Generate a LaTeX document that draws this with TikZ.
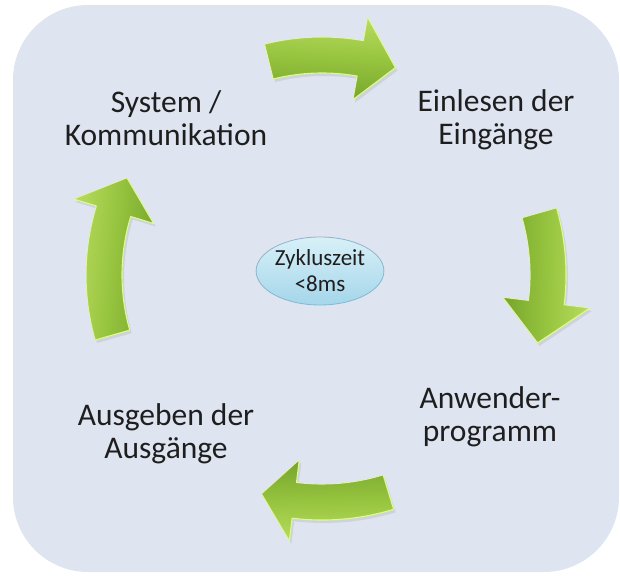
\documentclass[tikz,border=0pt]{standalone}
\usepackage{fontspec}
\setmainfont{Carlito}
\usetikzlibrary{shapes.geometric,shadows}
\definecolor{bgc}{HTML}{DEE5F1}
\definecolor{grlight}{HTML}{B8DC5E}
\definecolor{grmid}{HTML}{96C43F}
\definecolor{grdark}{HTML}{76A42B}
\definecolor{grhl}{HTML}{E0F4A6}
\definecolor{elltop}{HTML}{D8F0F8}
\definecolor{ellbot}{HTML}{A4D6EA}
\definecolor{elledge}{HTML}{8CB5C9}
\definecolor{txt}{HTML}{1E1E1E}
\tikzset{
  cyclearrow/.style={top color=grlight, bottom color=grdark, middle color=grmid,
    draw=grhl, line width=1.1pt, line join=round,
    drop shadow={opacity=0.18, shadow xshift=2pt, shadow yshift=-3pt}},
  lbl/.style={align=center, inner sep=0pt, text=txt,
    font=\fontsize{31.5}{33}\selectfont},
  cyc/.style={ellipse, minimum width=125pt, minimum height=68pt, inner sep=0pt,
    top color=elltop, bottom color=ellbot, draw=elledge, line width=0.8pt,
    align=center, text=txt, font=\fontsize{23}{26}\selectfont}
}
\newcommand{\cycarrow}[6]{% a1, ab, a2, r, w, h
  \pgfmathsetmacro\cyRo{#4+#5}\pgfmathsetmacro\cyRi{#4-#5}%
  \pgfmathsetmacro\cyHo{#4+#6}\pgfmathsetmacro\cyHi{#4-#6}%
  \pgfmathsetmacro\cySa{(#1+#3)/2-90}%
  \path[cyclearrow, shading angle=\cySa]
    ([shift={(C)}]#1:\cyRo) arc[start angle=#1, end angle=#2, radius=\cyRo]
    -- ([shift={(C)}]#2:\cyHo) -- ([shift={(C)}]#3:#4)
    -- ([shift={(C)}]#2:\cyHi) -- ([shift={(C)}]#2:\cyRi)
    arc[start angle=#2, end angle=#1, radius=\cyRi] -- cycle;
}
\begin{document}
\begin{tikzpicture}[x=1pt,y=1pt]
\useasboundingbox (0,0) rectangle (620,575);
\fill[bgc, rounded corners=75pt] (13,3) rectangle (619,570);
\coordinate (C) at (322,300);
% arrows (clockwise)
\cycarrow{104}{80}{70.5}{220}{18}{42}
\cycarrow{16}{-7}{-17.5}{226}{18}{44}
\cycarrow{-73}{-97}{-105.5}{227}{18}{41}
\cycarrow{196}{163}{153.5}{218}{18}{42}
% labels
\node[lbl] (sys) at (166,457) {System /\\Kommunikation};
\node[lbl] (ein) at (496,455) {Einlesen der\\Eingänge};
\node[lbl] (anw) at (490,158) {Anwender-\\programm};
\node[lbl] (aus) at (166,141) {Ausgeben der\\Ausgänge};
\node[cyc] (zyk) at (320,304) {Zykluszeit\\<8ms};
\end{tikzpicture}
\end{document}
